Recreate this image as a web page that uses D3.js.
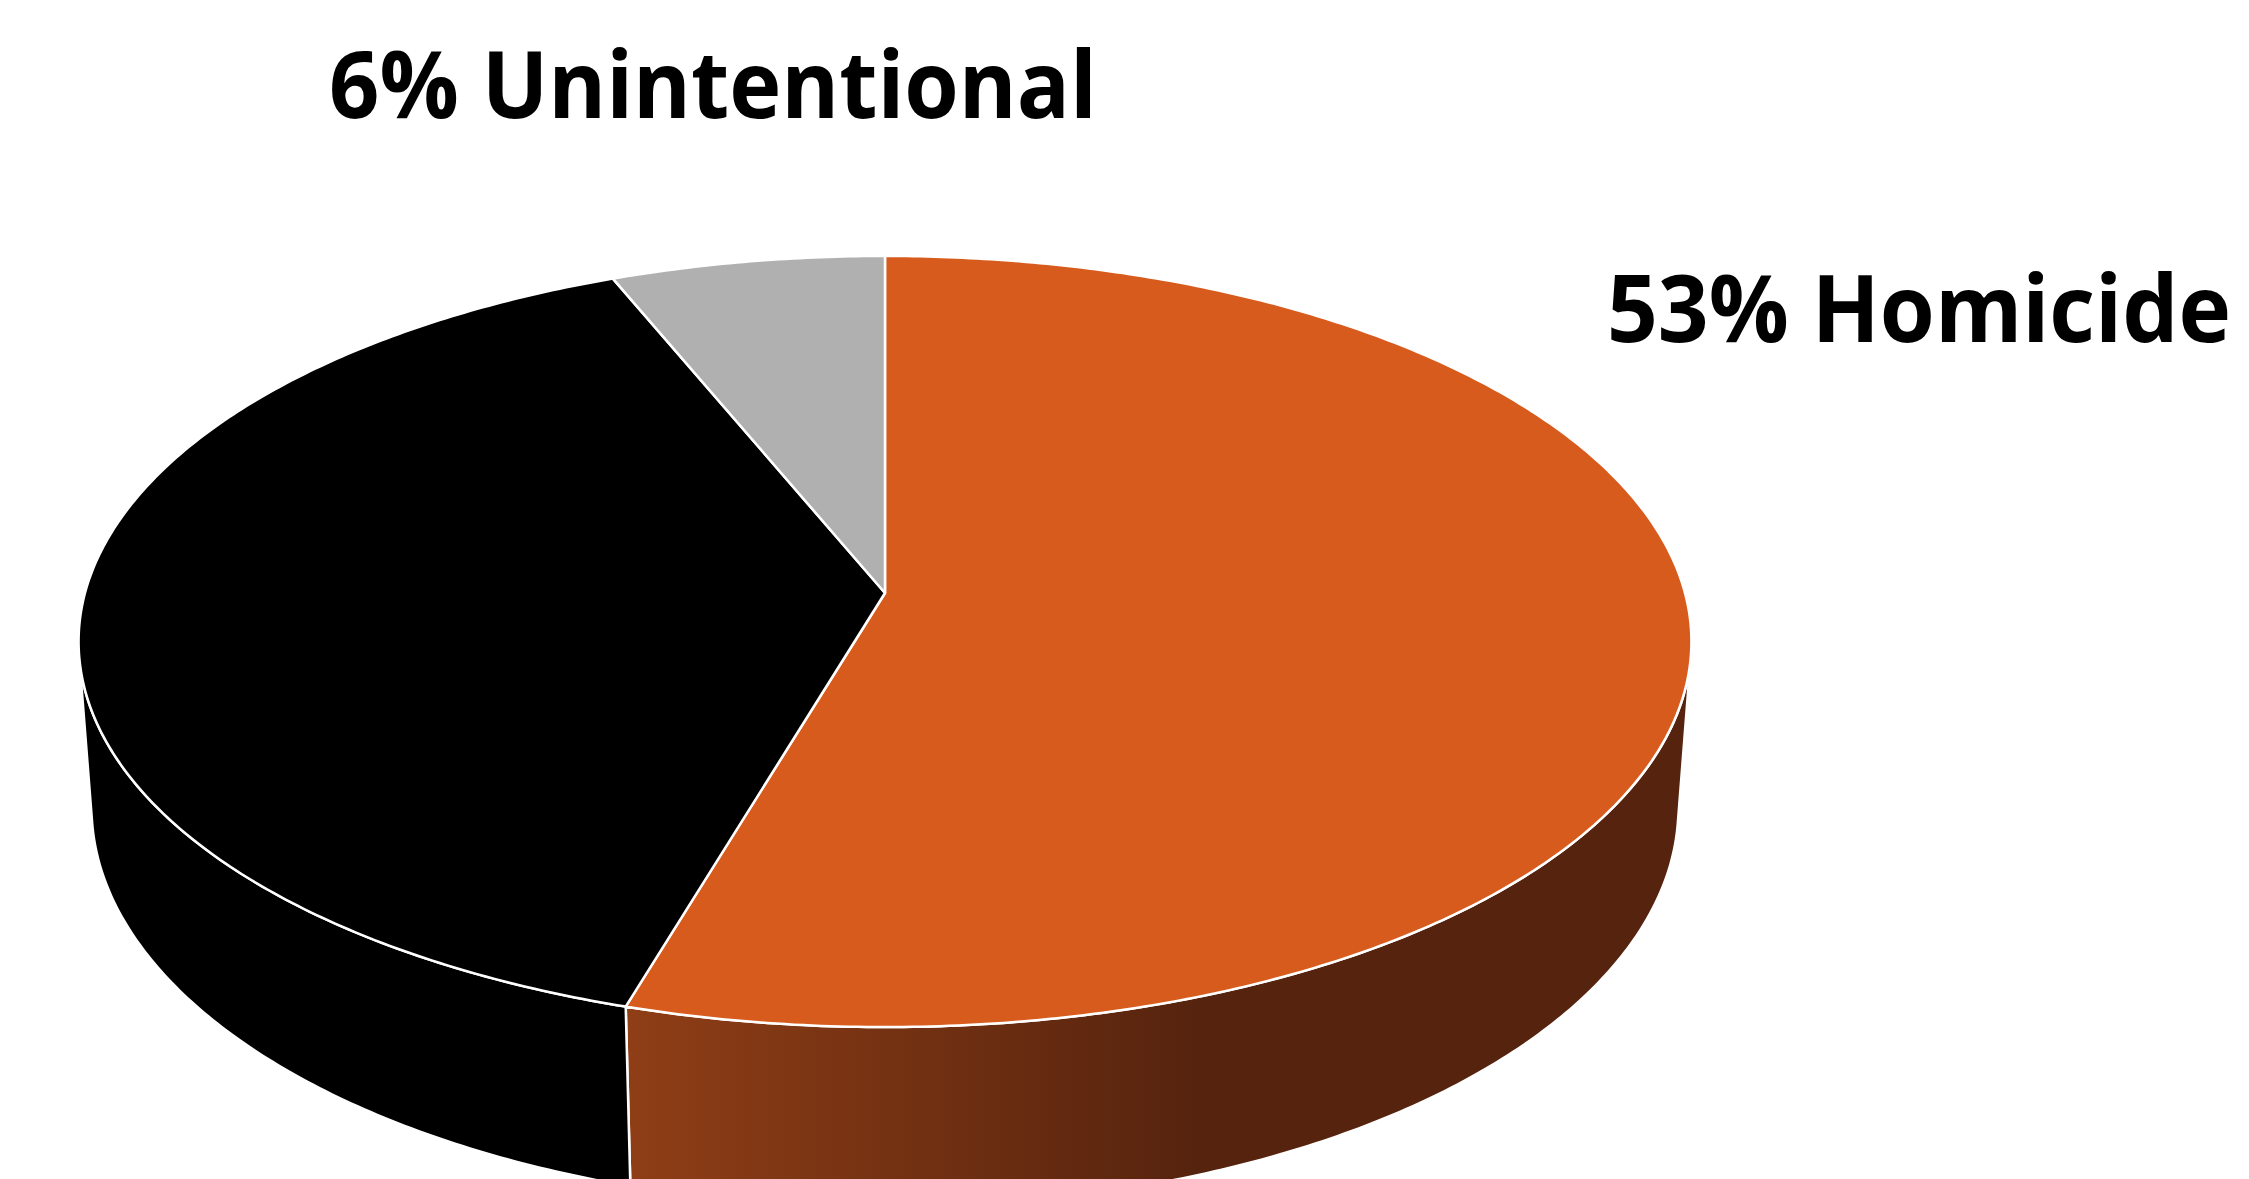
<!DOCTYPE html>
<html>
<head>
<meta charset="utf-8">
<script src="https://cdn.jsdelivr.net/npm/d3@7"></script>
<style>
  html, body { margin: 0; padding: 0; background: #ffffff; overflow: hidden; }
  svg { display: block; }
</style>
</head>
<body>
<svg id="chart" width="2249" height="1179"></svg>
<script>
// ---- data ----
const categories = ["Homicide", "Suicide", "Unintentional"];
const values = [54.6, 39.2, 6.2];           // slice sizes as drawn
const labels = ["53% Homicide", "", "6% Unintentional"];
const topColors = ["#D85B1E", "#000000", "#B0B0B0"];
const sideColors = ["url(#sideGrad)", "#000000", "#8a8a8a"];

// ---- geometry (perspective 3D pie) ----
const cx = 885, cy = 593;
const sinP = 0.4743, cosP = Math.sqrt(1 - sinP * sinP);
const Ldist = 7.944 * cosP;     // camera distance (radius = 1)
const depth = 0.238;            // pie thickness (radius units)

const xScale = d3.scaleLinear().domain([-1, 1]).range([cx - 800, cx + 800]);
const yScale = d3.scaleLinear().domain([-1, 1]).range([cy + 800, cy - 800]);

function project(theta, r, z) {
  const x = r * Math.sin(theta);
  const y = -r * Math.cos(theta);
  const yc = -y * sinP + z * cosP;
  const zc = Ldist - y * cosP - z * sinP;
  return [xScale(x * Ldist / zc), yScale(yc * Ldist / zc)];
}

const svg = d3.select("#chart");
const defs = svg.append("defs");
const grad = defs.append("linearGradient")
  .attr("id", "sideGrad").attr("gradientUnits", "userSpaceOnUse")
  .attr("x1", 627).attr("x2", 1205).attr("y1", 0).attr("y2", 0);
grad.append("stop").attr("offset", "0").attr("stop-color", "#8F3E16");
grad.append("stop").attr("offset", "1").attr("stop-color", "#55230E");

const arcs = d3.pie().sort(null).value(d => d)(values);
const line = d3.line();

function arcPoints(a0, a1, r, z) {
  const n = Math.max(2, Math.ceil((a1 - a0) / 0.01));
  return d3.range(n + 1).map(i => project(a0 + (a1 - a0) * i / n, r, z));
}

// visible part of the cylinder wall (silhouette generators)
const wallMin = Math.acos(-1 / (Ldist * cosP));
const wallMax = 2 * Math.PI - wallMin;
const walls = svg.append("g");
arcs.forEach((a, i) => {
  const a0 = Math.max(a.startAngle, wallMin), a1 = Math.min(a.endAngle, wallMax);
  if (a1 <= a0) return;
  const pts = arcPoints(a0, a1, 1, 0).concat(arcPoints(a0, a1, 1, -depth).reverse());
  walls.append("path")
    .attr("d", line(pts) + "Z")
    .attr("fill", sideColors[i])
    .attr("stroke", "#ffffff").attr("stroke-width", 2.5)
    .attr("stroke-linejoin", "round");
});

// top faces
const tops = svg.append("g");
arcs.forEach((a, i) => {
  const pts = [project(0, 0, 0)].concat(arcPoints(a.startAngle, a.endAngle, 1, 0));
  tops.append("path")
    .attr("d", line(pts) + "Z")
    .attr("fill", topColors[i])
    .attr("stroke", "#ffffff").attr("stroke-width", 2.5)
    .attr("stroke-linejoin", "round");
});

// labels (condensed horizontally to match the narrow original face)
const labelPos = [
  { x: 1607, y: 342, len: 624 },
  null,
  { x: 329, y: 118, len: 768 }
];
labels.forEach((t, i) => {
  if (!t || !labelPos[i]) return;
  const txt = svg.append("text")
    .attr("x", 0).attr("y", 0)
    .attr("font-family", "'Open Sans', 'Noto Sans', sans-serif")
    .attr("font-weight", 700)
    .attr("font-size", 93)
    .attr("fill", "#000")
    .text(t);
  const natural = txt.node().getComputedTextLength();
  const sx = labelPos[i].len / natural;
  txt.attr("transform", `translate(${labelPos[i].x},${labelPos[i].y}) scale(${sx},1)`);
});
</script>
</body>
</html>
